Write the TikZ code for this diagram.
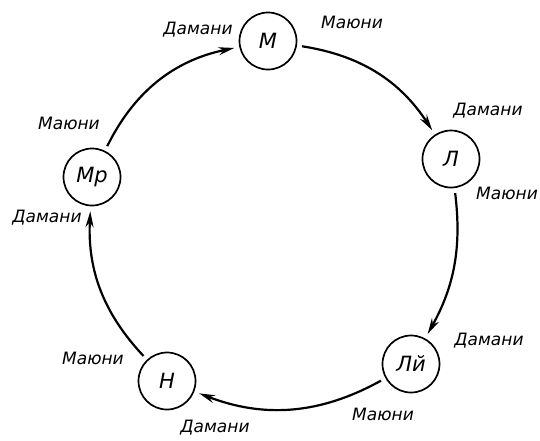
\documentclass[tikz,border=0pt]{standalone}
\usepackage{fontspec}
\setmainfont{DejaVu Sans}
\usetikzlibrary{arrows.meta}
\tikzset{
  state/.style={draw=black,circle,minimum size=57pt,inner sep=0pt,line width=1.7pt,font=\fontsize{21}{21}\selectfont\itshape},
  lbl/.style={font=\fontsize{17}{17}\selectfont\itshape,inner sep=1pt},
  arr/.style={-{Stealth[length=16pt,width=8pt]},line width=2.2pt,shorten >=5pt,shorten <=5pt}
}

\begin{document}
\begin{tikzpicture}[x=1pt,y=1pt]
  \useasboundingbox (0,0) rectangle (540,-440);
  % states
  \node[state] (m) at (268,-41) {М};
  \node[state] (l) at (451,-159) {Л};
  \node[state] (lj) at (411,-364) {Лй};
  \node[state] (n) at (167,-381) {Н};
  \node[state] (mr) at (92,-177) {Мр};
  % labels
  \node[lbl] (dm) at (198,-30) {Дамани};
  \node[lbl] (mm) at (352,-22) {Маюни};
  \node[lbl] (dl) at (488,-111) {Дамани};
  \node[lbl,anchor=east] (ml) at (539,-193) {Маюни};
  \node[lbl] (dlj) at (489,-341) {Дамани};
  \node[lbl] (mlj) at (383,-414) {Маюни};
  \node[lbl] (dn) at (215,-428) {Дамани};
  \node[lbl] (mn) at (93,-358) {Маюни};
  \node[lbl] (mmr) at (69,-123) {Маюни};
  \node[lbl] (dmr) at (47,-218) {Дамани};
  % transitions
  \draw[arr] (mr) to[bend left=26] (m);
  \draw[arr] (m) to[bend left=24] (l);
  \draw[arr] (l) to[bend left=18] (lj);
  \draw[arr] (lj) to[bend left=25] (n);
  \draw[arr] (n) to[bend left=23] (mr);
\end{tikzpicture}
\end{document}
